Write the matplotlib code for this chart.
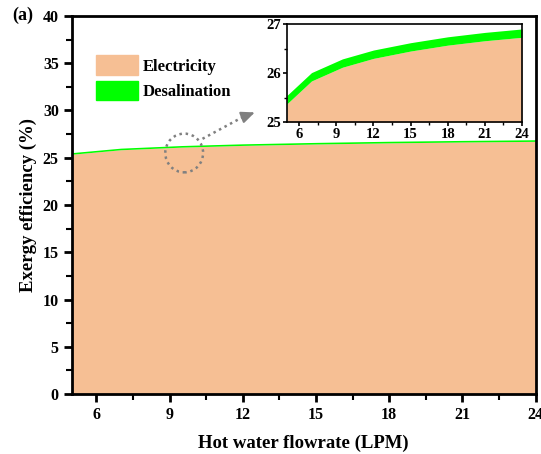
import matplotlib
matplotlib.use("Agg")
import matplotlib.pyplot as plt
import numpy as np
from matplotlib.patches import Patch, Ellipse
from matplotlib.ticker import MultipleLocator

plt.rcParams["font.family"] = ["Liberation Serif", "DejaVu Serif"]
plt.rcParams["font.weight"] = "bold"

# -----------------------------
# Data
# -----------------------------
flowrate = [5, 7, 9.5, 12, 15, 18, 21, 24]
electricity = [25.37, 25.84, 26.12, 26.30, 26.45, 26.57, 26.66, 26.73]
desalination = [0.17, 0.17, 0.17, 0.17, 0.17, 0.17, 0.17, 0.17]

ORANGE = "#F6BF94"
GREEN = "#00FF00"

elec = np.array(electricity)
total = elec + np.array(desalination)

fig = plt.figure(figsize=(5.41, 4.54), dpi=100)
ax = fig.add_axes([0.133, 0.132, 0.857, 0.833])

ax.fill_between(flowrate, 0, elec, color=ORANGE, lw=0)
ax.fill_between(flowrate, elec, total, color=GREEN, lw=0)
ax.set_xlim(5, 24)
ax.set_ylim(0, 40)
ax.set_xticks([6, 9, 12, 15, 18, 21, 24])
ax.xaxis.set_minor_locator(MultipleLocator(1.5))
ax.yaxis.set_major_locator(MultipleLocator(5))
ax.yaxis.set_minor_locator(MultipleLocator(2.5))
for s in ax.spines.values():
    s.set_linewidth(2)
ax.tick_params(which="major", direction="out", length=6, width=2, labelsize=11.5)
ax.tick_params(which="minor", direction="out", length=4, width=1.5)
ax.set_xlabel("Hot water flowrate (LPM)", fontsize=13.5, fontweight="bold", labelpad=8)
ax.set_ylabel("Exergy efficiency (%)", fontsize=13.5, fontweight="bold", labelpad=4)
for lab in ax.get_xticklabels() + ax.get_yticklabels():
    lab.set_fontweight("bold")

handles = [Patch(color=ORANGE, label="Electricity"), Patch(color=GREEN, label="Desalination")]
ax.legend(handles=handles, loc="upper left", bbox_to_anchor=(0.02, 0.935), frameon=False,
          prop={"weight": "bold", "size": 12}, handlelength=2.5, handleheight=1.4,
          handletextpad=0.3, labelspacing=0.35)

fig.text(0.022, 0.955, "(a)", fontsize=13, fontweight="bold")

# zoom circle + dotted arrow
ax.add_patch(Ellipse((9.6, 25.5), 1.55, 4.1, fill=False, ls=(0, (1, 1.5)), lw=1.8, ec="gray"))
ax.plot([10.35, 12.0], [27.0, 29.3], ls=(0, (1, 1.5)), lw=1.8, color="gray")
ax.annotate("", xy=(12.6, 29.9), xytext=(11.9, 29.2),
            arrowprops=dict(arrowstyle="-|>,head_length=0.8,head_width=0.35", color="gray", lw=1.5))

# -----------------------------
# Inset
# -----------------------------
ins = fig.add_axes([0.530, 0.731, 0.435, 0.216])
ins.fill_between(flowrate, 25, elec, color=ORANGE, lw=0)
ins.fill_between(flowrate, elec, total, color=GREEN, lw=0)
ins.set_xlim(5, 24)
ins.set_ylim(25, 27)
ins.set_xticks([6, 9, 12, 15, 18, 21, 24])
ins.xaxis.set_minor_locator(MultipleLocator(1.5))
ins.set_yticks([25, 26, 27])
ins.yaxis.set_minor_locator(MultipleLocator(0.5))
for s in ins.spines.values():
    s.set_linewidth(1.2)
ins.tick_params(which="major", direction="out", length=3, width=1.2, labelsize=10.5, pad=1)
ins.tick_params(which="minor", direction="out", length=2, width=1)
for lab in ins.get_xticklabels() + ins.get_yticklabels():
    lab.set_fontweight("bold")

fig.savefig("out.png", dpi=100)
